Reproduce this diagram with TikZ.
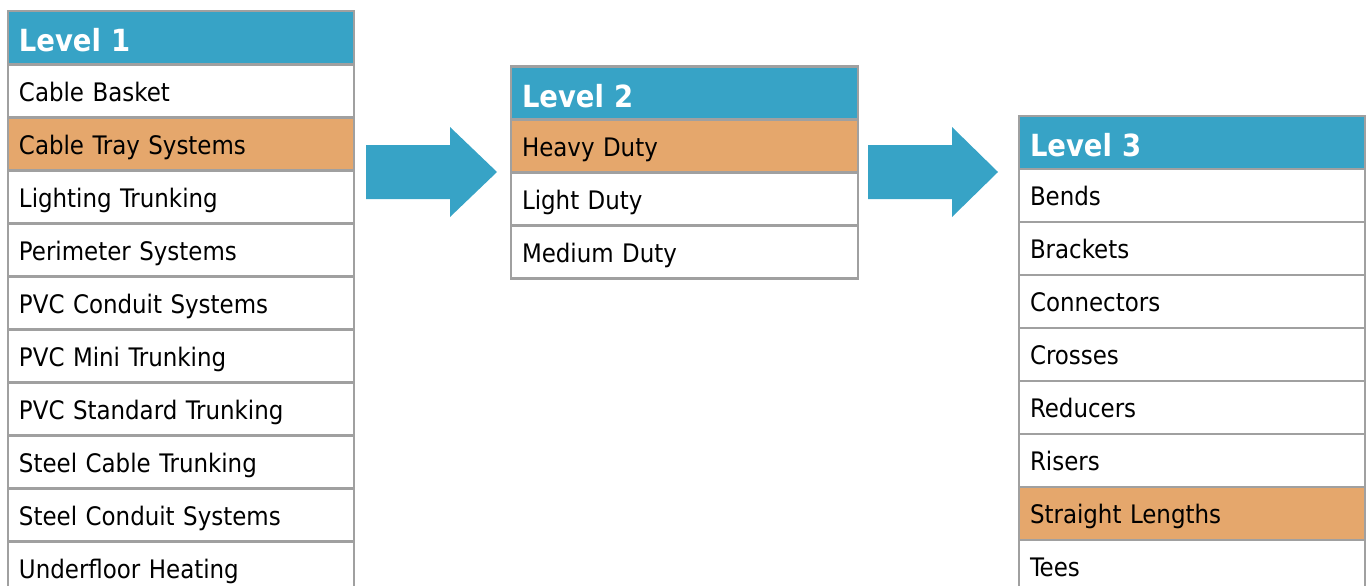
\documentclass[tikz,border=0pt]{standalone}
\usepackage{fontspec}
\setmainfont{DejaVu Sans Condensed}
\definecolor{hdrblue}{HTML}{37A3C6}
\definecolor{selorange}{HTML}{E5A76C}
\definecolor{gridgray}{HTML}{A0A0A0}
\begin{document}
\begin{tikzpicture}[x=1pt,y=-1pt,
  cellbase/.style={draw=gridgray, line width=2.5pt, anchor=north west, rectangle, outer sep=0pt,
    minimum height=53pt, inner xsep=11pt, inner ysep=0pt, align=left},
  cell/.style={cellbase, fill=white, font=\fontsize{25.5}{30}\selectfont,
    text height=20.5pt, text depth=0pt},
  selcell/.style={cell, fill=selorange},
  hdr/.style={cellbase, fill=hdrblue, text=white, font=\fontsize{30.5}{36}\selectfont\bfseries,
    text height=28.5pt, text depth=0pt},
  blockarrow/.style={fill=hdrblue, draw=none}]
\useasboundingbox (0,0) rectangle (1368,586);
% Table 1
\begin{scope}[every node/.append style={minimum width=346pt, text width=324pt}]
\node[hdr] (l1h) at (8,11) {Level 1};
\node[cell] (l1a) at (8,64.5) {Cable Basket};
\node[selcell] (l1b) at (8,117.5) {Cable Tray Systems};
\node[cell] (l1c) at (8,170.5) {Lighting Trunking};
\node[cell] (l1d) at (8,223.5) {Perimeter Systems};
\node[cell] (l1e) at (8,276.5) {PVC Conduit Systems};
\node[cell] (l1f) at (8,329.5) {PVC Mini Trunking};
\node[cell] (l1g) at (8,382.5) {PVC Standard Trunking};
\node[cell] (l1h2) at (8,435.5) {Steel Cable Trunking};
\node[cell] (l1i) at (8,488.5) {Steel Conduit Systems};
\node[cell] (l1j) at (8,541.5) {Underfloor Heating};
\end{scope}
% Table 2
\begin{scope}[every node/.append style={minimum width=347pt, text width=325pt}]
\node[hdr] (l2h) at (511,66.5) {Level 2};
\node[selcell] (l2a) at (511,119.5) {Heavy Duty};
\node[cell] (l2b) at (511,172.5) {Light Duty};
\node[cell] (l2c) at (511,225.5) {Medium Duty};
\end{scope}
% Table 3
\begin{scope}[every node/.append style={minimum width=346pt, text width=324pt}]
\node[hdr] (l3h) at (1019,116) {Level 3};
\node[cell] (l3a) at (1019,169) {Bends};
\node[cell] (l3b) at (1019,222) {Brackets};
\node[cell] (l3c) at (1019,275) {Connectors};
\node[cell] (l3d) at (1019,328) {Crosses};
\node[cell] (l3e) at (1019,381) {Reducers};
\node[cell] (l3f) at (1019,434) {Risers};
\node[selcell] (l3g) at (1019,487) {Straight Lengths};
\node[cell] (l3h2) at (1019,540) {Tees};
\end{scope}
% Block arrows
\fill[blockarrow] (366,145) -- (450,145) -- (450,127) -- (497,172) -- (450,217) -- (450,199) -- (366,199) -- cycle;
\fill[blockarrow] (868,145) -- (952,145) -- (952,127) -- (998,172) -- (952,217) -- (952,199) -- (868,199) -- cycle;
\end{tikzpicture}
\end{document}
